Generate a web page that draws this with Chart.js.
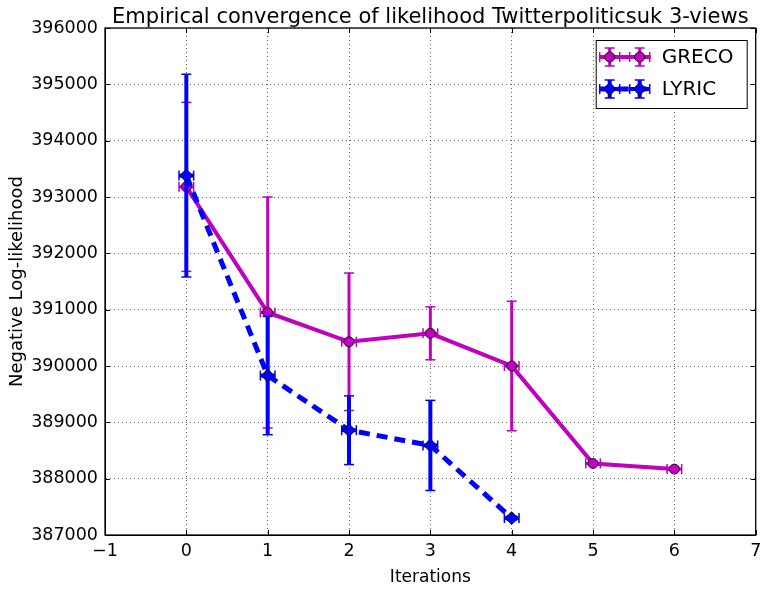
<html>
<head>
<meta http-equiv="Content-Type" content="text/html; charset=utf-8"/>
<title>likelihood</title>
<style>
body { margin:0; background:#fff; }
</style>
</head>
<body>
<canvas id="konw" width="763" height="589"></canvas>

<script src="https://cdn.jsdelivr.net/npm/chart.js@4/dist/chart.umd.min.js"></script>
<script type="text/javascript">

// values
grecoIter = [0, 1, 2, 3, 4, 5, 6]
grecoLik = [393180, 390950, 390430, 390580, 390000, 388270, 388170]
grecoErr = [1500, 2050, 1220, 470, 1150, 30, 30]

lyricIter = [0, 1, 2, 3, 4]
lyricLik = [393380, 389830, 388860, 388590, 387300]
lyricErr = [1800, 1050, 610, 800, 40]

iterErr = 0.09

TITLE = 'Empirical convergence of likelihood Twitterpoliticsuk 3-views'
MAGENTA = "#bf00bf"
BLUE = "#0000ff"
FONT = "'DejaVu Sans', sans-serif"

function pts(xs, ys)
{
    var out = []
    for (var i = 0; i < xs.length; ++i) out.push({x: xs[i], y: ys[i]})
    return out
}

function kreska(ctx, x1, y1, x2, y2)
{
    ctx.beginPath()
    ctx.moveTo(x1, y1)
    ctx.lineTo(x2, y2)
    ctx.stroke()
}

// error bars drawn just under each dataset
var slupki = {
    id: 'slupki',
    beforeDatasetDraw: function(chart, args) {
        var ds = chart.data.datasets[args.index]
        var sx = chart.scales.x, sy = chart.scales.y
        var ctx = chart.ctx
        ctx.save()
        ctx.strokeStyle = ds.borderColor
        ctx.setLineDash([])
        for (var i = 0; i < ds.data.length; ++i)
        {
            var p = ds.data[i]
            var px = sx.getPixelForValue(p.x), py = sy.getPixelForValue(p.y)
            var top = sy.getPixelForValue(p.y + ds.yErr[i])
            var bot = sy.getPixelForValue(p.y - ds.yErr[i])
            var l = sx.getPixelForValue(p.x - ds.xErr)
            var r = sx.getPixelForValue(p.x + ds.xErr)
            ctx.lineWidth = ds.errWidth
            kreska(ctx, px, top, px, bot)
            kreska(ctx, l, py, r, py)
            ctx.lineWidth = 1.5
            kreska(ctx, px - 5, top, px + 5, top)
            kreska(ctx, px - 5, bot, px + 5, bot)
            kreska(ctx, l, py - 5, l, py + 5)
            kreska(ctx, r, py - 5, r, py + 5)
        }
        ctx.restore()
    }
}

function znacznik(ctx, ds, x, y)
{
    ctx.save()
    ctx.strokeStyle = ds.borderColor
    ctx.setLineDash([])
    ctx.lineWidth = ds.errWidth
    kreska(ctx, x, y - 9, x, y + 9)
    kreska(ctx, x - 10, y, x + 10, y)
    ctx.lineWidth = 1.5
    kreska(ctx, x - 5, y - 9, x + 5, y - 9)
    kreska(ctx, x - 5, y + 9, x + 5, y + 9)
    kreska(ctx, x - 10, y - 5, x - 10, y + 5)
    kreska(ctx, x + 10, y - 5, x + 10, y + 5)
    ctx.fillStyle = ds.pointBackgroundColor
    ctx.strokeStyle = "#000"
    ctx.lineWidth = 0.8
    ctx.beginPath()
    if (ds.pointStyle == 'circle')
    {
        ctx.arc(x, y, 5, 0, 2 * Math.PI)
    }
    else
    {
        ctx.moveTo(x, y - 6.5); ctx.lineTo(x + 6.5, y)
        ctx.lineTo(x, y + 6.5); ctx.lineTo(x - 6.5, y); ctx.closePath()
    }
    ctx.fill()
    ctx.stroke()
    ctx.restore()
}

// title, frame, inward ticks and the legend box
var ramka = {
    id: 'ramka',
    afterDraw: function(chart) {
        var ctx = chart.ctx
        var a = chart.chartArea
        var sx = chart.scales.x, sy = chart.scales.y
        ctx.save()
        ctx.fillStyle = "#000"
        ctx.font = "21px " + FONT
        ctx.textAlign = "center"
        ctx.textBaseline = "alphabetic"
        ctx.fillText(TITLE, (a.left + a.right) / 2, 23)

        ctx.strokeStyle = "#000"
        ctx.lineWidth = 1
        ctx.setLineDash([])
        sx.ticks.forEach(function(t) {
            var x = Math.round(sx.getPixelForValue(t.value)) + 0.5
            kreska(ctx, x, a.bottom, x, a.bottom - 5)
            kreska(ctx, x, a.top, x, a.top + 5)
        })
        sy.ticks.forEach(function(t) {
            var y = Math.round(sy.getPixelForValue(t.value)) + 0.5
            kreska(ctx, a.left, y, a.left + 5, y)
            kreska(ctx, a.right, y, a.right - 5, y)
        })
        ctx.lineWidth = 1.3
        ctx.strokeRect(a.left, a.top, a.right - a.left, a.bottom - a.top)

        // legend
        var bx = a.right - 160, by = a.top + 12, bw = 151, bh = 68
        ctx.fillStyle = "#fff"
        ctx.fillRect(bx, by, bw, bh)
        ctx.lineWidth = 1
        ctx.strokeRect(bx + 0.5, by + 0.5, bw, bh)
        for (var k = 0; k < chart.data.datasets.length; ++k)
        {
            var ds = chart.data.datasets[k]
            var ly = by + 17 + 32 * k
            ctx.save()
            ctx.strokeStyle = ds.borderColor
            ctx.lineWidth = ds.borderWidth
            ctx.setLineDash(ds.borderDash || [])
            kreska(ctx, bx + 4, ly, bx + 55, ly)
            ctx.restore()
            znacznik(ctx, ds, bx + 14, ly)
            znacznik(ctx, ds, bx + 44, ly)
            ctx.fillStyle = "#000"
            ctx.font = "20px " + FONT
            ctx.textBaseline = "middle"
            ctx.textAlign = "left"
            ctx.fillText(ds.label, bx + 66, ly + 1)
        }
        ctx.restore()
    }
}

var ctx = document.getElementById('konw').getContext("2d")
var wykres = new Chart(ctx, {
    type: 'scatter',
    data: {
        datasets: [{
            label: 'GRECO',
            data: pts(grecoIter, grecoLik),
            yErr: grecoErr,
            xErr: iterErr,
            errWidth: 3,
            showLine: true,
            borderColor: MAGENTA,
            backgroundColor: MAGENTA,
            borderWidth: 4,
            pointStyle: 'circle',
            pointRadius: 5,
            pointBackgroundColor: MAGENTA,
            pointBorderColor: '#000',
            pointBorderWidth: 0.8,
            order: 1
        },
        {
            label: 'LYRIC',
            data: pts(lyricIter, lyricLik),
            yErr: lyricErr,
            xErr: iterErr,
            errWidth: 4,
            showLine: true,
            borderColor: BLUE,
            backgroundColor: BLUE,
            borderWidth: 5,
            borderDash: [11, 7],
            pointStyle: 'rectRot',
            pointRadius: 6.5,
            pointBackgroundColor: BLUE,
            pointBorderColor: '#000',
            pointBorderWidth: 0.8,
            order: 0
        }]
    },
    options: {
        responsive: false,
        animation: false,
        layout: { padding: { left: 0, right: 4, top: 28, bottom: 0 } },
        plugins: {
            legend: { display: false },
            tooltip: { enabled: false },
            title: { display: false }
        },
        scales: {
            x: {
                type: 'linear',
                min: -1,
                max: 7,
                ticks: {
                    stepSize: 1,
                    color: '#000',
                    padding: 6,
                    font: { family: FONT, size: 17.5 },
                    callback: function(v) { return ("" + v).replace('-', '\u2212') }
                },
                grid: { color: 'rgba(0,0,0,0.6)', drawTicks: false },
                border: { display: true, color: '#000', dash: [1, 3] },
                title: {
                    display: true,
                    text: 'Iterations',
                    color: '#000',
                    font: { family: FONT, size: 17 },
                    padding: { top: 0, bottom: 1 }
                },
                afterFit: function(s) { s.height = 54; s.paddingLeft = 0; s.paddingRight = 0 }
            },
            y: {
                type: 'linear',
                min: 387000,
                max: 396000,
                ticks: {
                    stepSize: 1000,
                    color: '#000',
                    padding: 7,
                    font: { family: FONT, size: 17.5 },
                    callback: function(v) { return "" + v }
                },
                grid: { color: 'rgba(0,0,0,0.6)', drawTicks: false },
                border: { display: true, color: '#000', dash: [1, 3] },
                title: {
                    display: true,
                    text: 'Negative Log-likelihood',
                    color: '#000',
                    font: { family: FONT, size: 18 },
                    padding: { top: 7, bottom: 0 }
                },
                afterFit: function(s) { s.width = 105 }
            }
        }
    },
    plugins: [slupki, ramka]
})

</script>
</body>
</html>
